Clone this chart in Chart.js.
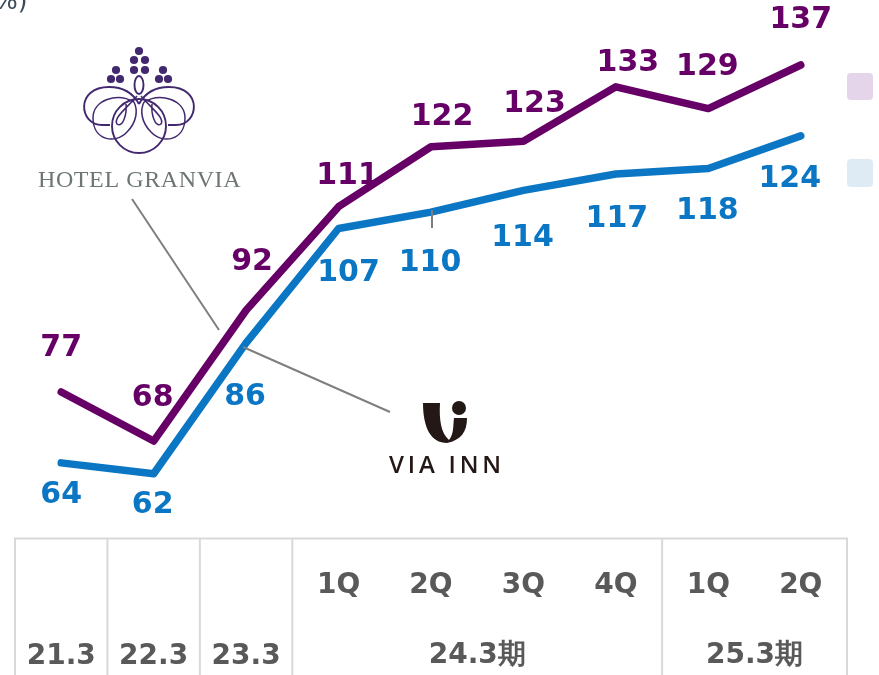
<!DOCTYPE html>
<html><head><meta charset="utf-8">
<script src="https://cdn.jsdelivr.net/npm/chart.js@4"></script>
<style>html,body{margin:0;padding:0;background:#fff;overflow:hidden}#w{width:879px;height:675px;position:relative}canvas{filter:blur(.5px)}</style>
</head><body><div id="w"><canvas id="c" width="879" height="675"></canvas></div>
<script>
const quarters = ["", "", "", "1Q", "2Q", "3Q", "4Q", "1Q", "2Q"];
const years = ["21.3", "22.3", "23.3", "", "", "", "", "", ""];
const groups = [
  {label: "24.3期", from: 3, to: 6},
  {label: "25.3期", from: 7, to: 8}
];
const granvia = [77, 68, 92, 111, 122, 123, 133, 129, 137];
const viaInn = [64, 62, 86, 107, 110, 114, 117, 118, 124];
const purple = "#660066", blue = "#0b76c4";
const granviaDx = [0, -1, 6, 9, 11, 11, 12, -1, 0];
const granviaDy = [-44, -43, -48, -30, -30, -37, -24, -41, -45];
const viaDx = [0, -1, -1, 10, -1, -1, 1, -1, -11];
const viaDy = [32, 31, 54, 45, 51, 48, 45, 43, 43];
const font = '"DejaVu Sans"';

const tablePlugin = {
  id: "table",
  afterDraw(ch) {
    const c = ch.ctx, x = ch.scales.x;
    const step = x.getPixelForValue(1) - x.getPixelForValue(0);
    const edge = i => x.getPixelForValue(i) - step / 2;
    c.save();
    c.strokeStyle = "#d9d9d9"; c.lineWidth = 2;
    const top = 538.5;
    c.beginPath(); c.moveTo(edge(0) - 1, top); c.lineTo(edge(9) + 1, top);
    [0, 1, 2, 3, 7, 9].forEach(i => { c.moveTo(edge(i), top); c.lineTo(edge(i), 675); });
    c.stroke();
    c.fillStyle = "#595959"; c.font = `bold 28px ${font}`;
    c.textAlign = "center"; c.textBaseline = "middle";
    groups.forEach(g => c.fillText(g.label, (x.getPixelForValue(g.from) + x.getPixelForValue(g.to)) / 2, 656));
    c.restore();
  }
};
const labelPlugin = {
  id: "labels",
  afterDatasetsDraw(ch) {
    const c = ch.ctx;
    c.save();
    c.font = `bold 30px ${font}`; c.textAlign = "center"; c.textBaseline = "middle";
    const offs = [[granviaDx, granviaDy], [viaDx, viaDy]];
    ch.data.datasets.forEach((d, k) => {
      c.fillStyle = d.borderColor;
      ch.getDatasetMeta(k).data.forEach((p, i) => c.fillText(d.data[i], p.x + offs[k][0][i], p.y + offs[k][1][i]));
    });
    c.restore();
  }
};
const decoPlugin = {
  id: "deco",
  afterDraw(ch) {
    const c = ch.ctx;
    c.save();
    c.fillStyle = "#3b4a5a"; c.font = `25px ${font}`; c.textBaseline = "alphabetic"; c.textAlign = "left";
    c.fillText("%)", -6, 9);
    c.fillStyle = "#e4d5ea"; roundRect(c, 847, 73, 26, 27, 4);
    c.fillStyle = "#deebf5"; roundRect(c, 847, 159, 26, 28, 4);
    c.strokeStyle = "#7f7f7f"; c.lineWidth = 2;
    c.beginPath();
    c.moveTo(132, 199); c.lineTo(219, 330);
    c.moveTo(243, 347); c.lineTo(390, 412);
    c.moveTo(432, 210); c.lineTo(432, 228);
    c.stroke();
    const v = "#42286e";
    c.fillStyle = v;
    [[139,51],[134,60],[145,60],[134,70],[145,70],[116,70],[111,79],[120,79],[163,70],[159,79],[168,79]]
      .forEach(p => { c.beginPath(); c.arc(p[0], p[1], 4.1, 0, 7); c.fill(); });
    c.strokeStyle = v; c.lineWidth = 1.9;
    c.beginPath(); c.arc(139, 126, 27, 0, 7); c.stroke();
    c.beginPath(); c.ellipse(139, 85, 4.5, 9, 0, 0, 7); c.stroke();
    [1, -1].forEach(s => {
      const X = a => 139 + s * a;
      c.lineWidth = 1.9;
      c.beginPath();
      c.moveTo(X(-37), 125); c.lineTo(X(-29), 125);
      c.moveTo(X(-37), 125);
      c.bezierCurveTo(X(-60), 125, X(-64), 87, X(-30), 87);
      c.bezierCurveTo(X(-15), 87, X(-6), 93, X(0), 104);
      c.stroke();
      c.lineWidth = 1.5;
      c.beginPath();
      c.moveTo(X(-5), 102);
      c.bezierCurveTo(X(-22), 92, X(-46), 100, X(-46), 118);
      c.bezierCurveTo(X(-46), 140, X(-24), 145, X(-12), 132);
      c.bezierCurveTo(X(-2), 122, X(-1), 110, X(-5), 102);
      c.stroke();
      c.beginPath();
      c.moveTo(X(-2), 96);
      c.bezierCurveTo(X(-12), 108, X(-26), 118, X(-22), 124);
      c.bezierCurveTo(X(-16), 128, X(-12), 114, X(-13), 104);
      c.stroke();
    });
    c.fillStyle = "#6d7675"; c.font = '24px "Liberation Serif"'; c.letterSpacing = "0.6px";
    c.fillText("HOTEL GRANVIA", 38, 187);
    c.fillStyle = "#231815";
    c.beginPath();
    c.moveTo(423, 403); c.lineTo(440, 403);
    c.bezierCurveTo(439, 420, 441, 433, 449, 440);
    c.bezierCurveTo(454, 434, 453, 425, 454, 418);
    c.lineTo(467, 418);
    c.bezierCurveTo(467, 432, 461, 440, 447, 443);
    c.bezierCurveTo(431, 443, 423, 428, 423, 403);
    c.fill();
    c.beginPath(); c.arc(459, 408, 7, 0, 7); c.fill();
    c.font = '600 24px "Open Sans"'; c.letterSpacing = "3.8px";
    c.fillText("VIA INN", 389, 473);
    c.restore();
  }
};
function roundRect(c, x, y, w, h, r) { c.beginPath(); c.roundRect(x, y, w, h, r); c.fill(); }

new Chart(document.getElementById("c"), {
  type: "line",
  data: {
    labels: quarters.map((q, i) => [q, years[i]]),
    datasets: [
      {label: "HOTEL GRANVIA", data: granvia, borderColor: purple},
      {label: "VIA INN", data: viaInn, borderColor: blue}
    ]
  },
  options: {
    responsive: false, animation: false,
    layout: {padding: {left: 15, right: 32, top: 21.4, bottom: 0}},
    elements: {
      line: {borderWidth: 7.5, tension: 0, borderCapStyle: "round", borderJoinStyle: "round", fill: false},
      point: {radius: 0}
    },
    plugins: {legend: {display: false}, tooltip: {enabled: false}},
    scales: {
      x: {
        offset: true,
        grid: {display: false}, border: {display: false},
        afterFit(s) { s.height = 135.85; },
        ticks: {
          autoSkip: false, maxRotation: 0, minRotation: 0, padding: 3.5,
          color: "#595959", font: {family: "DejaVu Sans", size: 28, weight: "bold", lineHeight: "71px"}
        }
      },
      y: {display: false, min: 50, max: 145}
    }
  },
  plugins: [labelPlugin, tablePlugin, decoPlugin]
});
</script></body></html>
